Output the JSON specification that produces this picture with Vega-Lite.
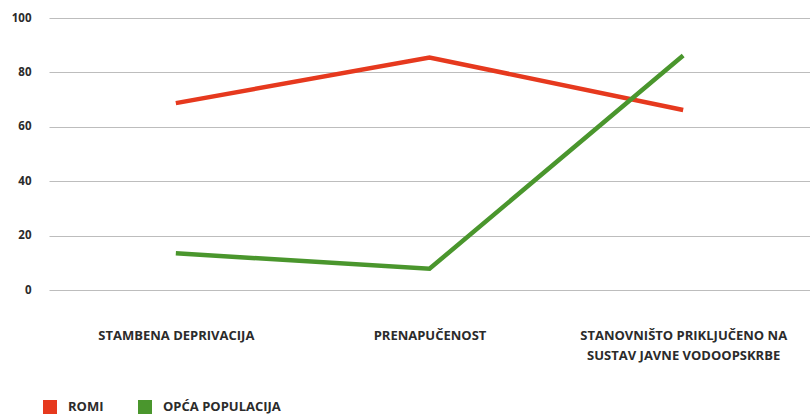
{
  "$schema": "https://vega.github.io/schema/vega-lite/v6.json",
  "width": 761,
  "height": 272,
  "autosize": {"type": "none"},
  "padding": {"left": 49, "top": 18, "right": 0, "bottom": 124},
  "background": "white",
  "config": {
    "view": {"stroke": null},
    "font": "Open Sans"
  },
  "data": {
    "values": [
      {"kategorija": "STAMBENA DEPRIVACIJA", "skupina": "ROMI", "vrijednost": 68.7},
      {"kategorija": "PRENAPUČENOST", "skupina": "ROMI", "vrijednost": 85.5},
      {"kategorija": "STANOVNIŠTO PRIKLJUČENO NA|SUSTAV JAVNE VODOOPSKRBE", "skupina": "ROMI", "vrijednost": 66.2},
      {"kategorija": "STAMBENA DEPRIVACIJA", "skupina": "OPĆA POPULACIJA", "vrijednost": 13.5},
      {"kategorija": "PRENAPUČENOST", "skupina": "OPĆA POPULACIJA", "vrijednost": 7.8},
      {"kategorija": "STANOVNIŠTO PRIKLJUČENO NA|SUSTAV JAVNE VODOOPSKRBE", "skupina": "OPĆA POPULACIJA", "vrijednost": 86.2}
    ]
  },
  "mark": {"type": "line", "strokeWidth": 4.5, "strokeCap": "butt", "strokeJoin": "miter"},
  "encoding": {
    "x": {
      "field": "kategorija",
      "type": "nominal",
      "sort": null,
      "scale": {"type": "point", "padding": 0.5},
      "axis": {
        "title": null,
        "domain": false,
        "ticks": false,
        "grid": false,
        "labelAngle": 0,
        "labelPadding": 39,
        "labelLimit": 0,
        "labelFont": "Open Sans",
        "labelFontWeight": "bold",
        "labelFontSize": 13,
        "labelColor": "#2b2b2b",
        "labelLineHeight": 20,
        "labelExpr": "split(datum.label, '|')"
      }
    },
    "y": {
      "field": "vrijednost",
      "type": "quantitative",
      "scale": {"domain": [0, 100], "nice": false},
      "axis": {
        "title": null,
        "values": [0, 20, 40, 60, 80, 100],
        "domain": false,
        "ticks": false,
        "gridColor": "#bdbdbd",
        "gridWidth": 1.2,
        "labelPadding": 18,
        "labelFont": "Open Sans",
        "labelFontWeight": "bold",
        "labelFontSize": 11.5,
        "labelColor": "#2b2b2b"
      }
    },
    "color": {
      "field": "skupina",
      "type": "nominal",
      "sort": ["ROMI", "OPĆA POPULACIJA"],
      "scale": {"domain": ["ROMI", "OPĆA POPULACIJA"], "range": ["#e6391e", "#4a962d"]},
      "legend": {
        "title": null,
        "orient": "none",
        "direction": "horizontal",
        "legendX": -6,
        "legendY": 382,
        "symbolType": "square",
        "symbolSize": 196,
        "symbolStrokeWidth": 0,
        "symbolOpacity": 1,
        "labelFont": "Open Sans",
        "labelFontWeight": "bold",
        "labelFontSize": 13,
        "labelColor": "#2b2b2b",
        "labelOffset": 11,
        "columnPadding": 34,
        "encode": {
          "symbols": {
            "update": {
              "fill": {"scale": "color", "field": "value"},
              "fillOpacity": {"value": 1},
              "strokeWidth": {"value": 0}
            }
          }
        }
      }
    }
  }
}
